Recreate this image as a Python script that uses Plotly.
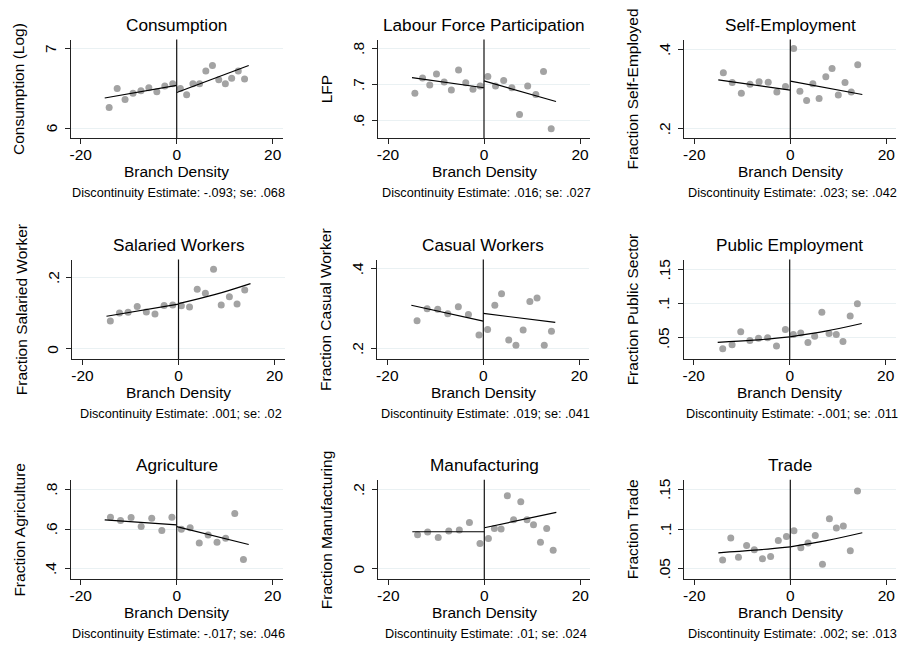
import plotly.graph_objects as go

# ---------------- text ----------------
titles = ["Consumption", "Labour Force Participation", "Self-Employment",
          "Salaried Workers", "Casual Workers", "Public Employment",
          "Agriculture", "Manufacturing", "Trade"]
ytitles = ["Consumption (Log)", "LFP", "Fraction Self-Employed",
           "Fraction Salaried Worker", "Fraction Casual Worker", "Fraction Public Sector",
           "Fraction Agriculture", "Fraction Manufacturing", "Fraction Trade"]
notes = ["Discontinuity Estimate: -.093; se: .068",
         "Discontinuity Estimate: .016; se: .027",
         "Discontinuity Estimate: .023; se: .042",
         "Discontinuity Estimate: .001; se: .02",
         "Discontinuity Estimate: .019; se: .041",
         "Discontinuity Estimate: -.001; se: .011",
         "Discontinuity Estimate: -.017; se: .046",
         "Discontinuity Estimate: .01; se: .024",
         "Discontinuity Estimate: .002; se: .013"]
xtitle = "Branch Density"
x_tickvals = [-20, 0, 20]
x_ticktext = ["-20", "0", "20"]

# ---------------- data ----------------
consumption_x = [-14.07, -12.4, -10.76, -9.1, -7.45, -5.8, -4.14, -2.48, -0.83,
                 0.76, 2.07, 3.38, 4.76, 6.07, 7.45, 8.76, 10.14, 11.45, 12.83, 14.14]
consumption_y = [6.26, 6.50, 6.36, 6.44, 6.47, 6.51, 6.46, 6.53, 6.56,
                 6.50, 6.42, 6.56, 6.56, 6.72, 6.79, 6.61, 6.56, 6.63, 6.72, 6.62]
consumption_fit_left = ([-15, 0], [6.38, 6.54])
consumption_fit_right = ([0, 15], [6.45, 6.79])
consumption_ticks = ([6, 7], ["6", "7"])
consumption_range = [5.874, 7.117]

lfp_x = [-14.4, -12.8, -11.3, -9.9, -8.3, -6.8, -5.3, -3.8, -2.3, -0.8,
         0.8, 2.4, 4.1, 5.8, 7.4, 9.1, 10.8, 12.4, 14.0]
lfp_y = [0.676, 0.718, 0.699, 0.729, 0.707, 0.685, 0.740, 0.705, 0.687, 0.696,
         0.722, 0.696, 0.711, 0.691, 0.617, 0.696, 0.672, 0.736, 0.577]
lfp_fit_left = ([-15, 0], [0.719, 0.691])
lfp_fit_right = ([0, 15], [0.710, 0.653])
lfp_ticks = ([0.6, 0.7, 0.8], [".6", ".7", ".8"])
lfp_range = [0.551, 0.825]

selfemp_x = [-13.95, -12.1, -10.2, -8.4, -6.5, -4.6, -2.8, -1.0,
             0.7, 2.0, 3.4, 4.7, 6.0, 7.4, 8.7, 10.0, 11.4, 12.7, 14.05]
selfemp_y = [0.341, 0.316, 0.289, 0.312, 0.318, 0.317, 0.292, 0.306,
             0.402, 0.294, 0.271, 0.313, 0.276, 0.331, 0.352, 0.285, 0.316, 0.292, 0.361]
selfemp_fit_left = ([-15, 0], [0.323, 0.297])
selfemp_fit_right = ([0, 15], [0.320, 0.286])
selfemp_ticks = ([0.2, 0.4], [".2", ".4"])
selfemp_range = [0.1755, 0.425]

salaried_x = [-14.2, -12.3, -10.5, -8.6, -6.7, -4.9, -3.0, -1.2,
              0.6, 2.3, 3.9, 5.6, 7.3, 8.9, 10.6, 12.2, 13.8]
salaried_y = [0.078, 0.100, 0.102, 0.118, 0.103, 0.097, 0.121, 0.122,
              0.120, 0.117, 0.166, 0.155, 0.222, 0.122, 0.145, 0.125, 0.164]
salaried_fit_left = ([-15, 0], [0.091, 0.125])
salaried_fit_right = ([0, 7.5, 15], [0.126, 0.151, 0.182])
salaried_ticks = ([0, 0.2], ["0", ".2"])
salaried_range = [-0.028, 0.249]

casual_x = [-13.8, -11.7, -9.5, -7.4, -5.2, -3.1, -0.9,
            0.9, 2.4, 3.8, 5.3, 6.8, 8.3, 9.7, 11.2, 12.7, 14.2]
casual_y = [0.269, 0.299, 0.298, 0.287, 0.304, 0.285, 0.233,
            0.247, 0.308, 0.337, 0.221, 0.2075, 0.246, 0.3175, 0.326, 0.2075, 0.2425]
casual_fit_left = ([-15, 0], [0.308, 0.268])
casual_fit_right = ([0, 15], [0.2875, 0.265])
casual_ticks = ([0.2, 0.4], [".2", ".4"])
casual_range = [0.173, 0.423]

public_x = [-13.95, -12.0, -10.2, -8.3, -6.5, -4.6, -2.75, -0.9,
            0.76, 2.3, 3.8, 5.2, 6.7, 8.2, 9.7, 11.1, 12.6, 14.1]
public_y = [0.034, 0.040, 0.0587, 0.046, 0.0495, 0.050, 0.038, 0.062,
            0.055, 0.057, 0.043, 0.0524, 0.0874, 0.0563, 0.0549, 0.0447, 0.082, 0.100]
public_fit_left = ([-15, -7.5, 0], [0.0432, 0.0465, 0.0515])
public_fit_right = ([0, 7.5, 15], [0.0515, 0.0597, 0.0709])
public_ticks = ([0.05, 0.1, 0.15], [".05", ".1", ".15"])
public_range = [0.019, 0.1646]

agri_x = [-13.8, -11.7, -9.5, -7.4, -5.2, -3.1, -1.0,
          0.97, 2.8, 4.7, 6.55, 8.4, 10.2, 12.1, 13.9]
agri_y = [0.6605, 0.644, 0.659, 0.613, 0.655, 0.593, 0.660,
          0.600, 0.607, 0.531, 0.571, 0.534, 0.555, 0.679, 0.447]
agri_fit_left = ([-15, 0], [0.647, 0.622])
agri_fit_right = ([0, 15], [0.613, 0.523])
agri_ticks = ([0.4, 0.6, 0.8], [".4", ".6", ".8"])
agri_range = [0.348, 0.849]

manuf_x = [-13.9, -11.8, -9.6, -7.4, -5.2, -3.1, -0.9,
           0.85, 2.1, 3.5, 4.8, 6.1, 7.6, 8.9, 10.25, 11.7, 13.0, 14.35]
manuf_y = [0.0857, 0.0924, 0.079, 0.095, 0.0975, 0.1168, 0.064,
           0.0765, 0.1017, 0.100, 0.184, 0.1235, 0.169, 0.1235, 0.111, 0.0672, 0.1017, 0.047]
manuf_fit_left = ([-15, 0], [0.0933, 0.0933])
manuf_fit_right = ([0, 15], [0.1034, 0.142])
manuf_ticks = ([0, 0.2], ["0", ".2"])
manuf_range = [-0.026, 0.224]

trade_x = [-14.1, -12.4, -10.8, -9.1, -7.5, -5.8, -4.1, -2.5, -0.8,
           0.76, 2.2, 3.7, 5.2, 6.7, 8.15, 9.6, 11.05, 12.5, 14.0]
trade_y = [0.0613, 0.0887, 0.0647, 0.0794, 0.074, 0.0626, 0.0655, 0.0857, 0.0908,
           0.0979, 0.0765, 0.0824, 0.092, 0.0559, 0.113, 0.1013, 0.104, 0.0727, 0.148]
trade_fit_left = ([-15, -7.5, 0], [0.0702, 0.0735, 0.0777])
trade_fit_right = ([0, 7.5, 15], [0.0777, 0.0855, 0.0954])
trade_ticks = ([0.05, 0.1, 0.15], [".05", ".1", ".15"])
trade_range = [0.037, 0.162]

panels = [
    (consumption_x, consumption_y, consumption_fit_left, consumption_fit_right, consumption_ticks, consumption_range),
    (lfp_x, lfp_y, lfp_fit_left, lfp_fit_right, lfp_ticks, lfp_range),
    (selfemp_x, selfemp_y, selfemp_fit_left, selfemp_fit_right, selfemp_ticks, selfemp_range),
    (salaried_x, salaried_y, salaried_fit_left, salaried_fit_right, salaried_ticks, salaried_range),
    (casual_x, casual_y, casual_fit_left, casual_fit_right, casual_ticks, casual_range),
    (public_x, public_y, public_fit_left, public_fit_right, public_ticks, public_range),
    (agri_x, agri_y, agri_fit_left, agri_fit_right, agri_ticks, agri_range),
    (manuf_x, manuf_y, manuf_fit_left, manuf_fit_right, manuf_ticks, manuf_range),
    (trade_x, trade_y, trade_fit_left, trade_fit_right, trade_ticks, trade_range),
]

# ---------------- layout geometry (pixels) ----------------
W, H = 900, 645
zero_px = [176.7, 484.0, 790.3, 178.5, 483.3, 789.7, 176.7, 484.3, 790.3]
row_top = [39.5, 259.5, 479.8]
row_bot = [138.2, 359.0, 579.2]
x_range = [-22.1, 22.1]
px_per_unit = 4.8

FONT = "Liberation Sans, Arial, Helvetica, sans-serif"
AXIS_COLOR = "#222222"
GRID_COLOR = "#EAF1F3"
MARKER_COLOR = "#A3A3A3"

fig = go.Figure()
layout_axes = {}
shapes = []
annotations = []

for i, (px, py, fl, fr, ticks, yr) in enumerate(panels):
    k = i + 1
    xa = "x" if k == 1 else f"x{k}"
    ya = "y" if k == 1 else f"y{k}"
    xname = "xaxis" if k == 1 else f"xaxis{k}"
    yname = "yaxis" if k == 1 else f"yaxis{k}"
    r = i // 3
    x0 = zero_px[i]
    half = (x_range[1]) * px_per_unit
    xdom = [(x0 - half) / W, min(1.0, (x0 + half) / W)]
    ydom = [1 - row_bot[r] / H, 1 - row_top[r] / H]

    fig.add_trace(go.Scatter(x=px, y=py, mode="markers",
                             marker=dict(color=MARKER_COLOR, size=7, line=dict(width=0)),
                             xaxis=xa, yaxis=ya, hoverinfo="skip"))
    for fx, fy in (fl, fr):
        fig.add_trace(go.Scatter(x=fx, y=fy, mode="lines",
                                 line=dict(color="black", width=1.2,
                                           shape="spline" if len(fx) > 2 else "linear"),
                                 xaxis=xa, yaxis=ya, hoverinfo="skip"))

    layout_axes[xname] = dict(domain=xdom, anchor=ya, range=x_range,
                              tickvals=x_tickvals, ticktext=x_ticktext,
                              ticklabelstandoff=-3,
                              showgrid=False, zeroline=False, showline=True,
                              linecolor=AXIS_COLOR, linewidth=1,
                              ticks="outside", ticklen=5, tickcolor=AXIS_COLOR,
                              tickfont=dict(family=FONT, size=15.5, color="black"),
                              fixedrange=True)
    layout_axes[yname] = dict(domain=ydom, anchor=xa, range=yr,
                              tickvals=ticks[0], showticklabels=False,
                              showgrid=True, gridcolor=GRID_COLOR, gridwidth=1,
                              zeroline=False, showline=True,
                              linecolor=AXIS_COLOR, linewidth=1,
                              ticks="outside", ticklen=5, tickcolor=AXIS_COLOR,
                              fixedrange=True)

    # rotated y tick labels, placed at the tick values on the y scale
    for tv, tt in zip(ticks[0], ticks[1]):
        annotations.append(dict(text=tt, xref=f"{xa} domain", yref=ya,
                                x=0, y=tv, xshift=-19.5, xanchor="center", yanchor="middle",
                                textangle=-90, showarrow=False,
                                font=dict(family=FONT, size=15.5, color="black")))

    shapes.append(dict(type="line", xref=xa, yref=f"{ya} domain",
                       x0=0, x1=0, y0=0, y1=1,
                       line=dict(color="#111111", width=1.2), layer="above"))

    annotations.append(dict(text=titles[i], xref=f"{xa} domain", yref=f"{ya} domain",
                            x=0.5, y=1, yshift=14.5, xanchor="center", yanchor="middle",
                            showarrow=False, font=dict(family=FONT, size=17.2, color="black")))
    annotations.append(dict(text=xtitle, xref=f"{xa} domain", yref=f"{ya} domain",
                            x=0.5, y=0, yshift=-33.5, xanchor="center", yanchor="middle",
                            showarrow=False, font=dict(family=FONT, size=15.5, color="black")))
    annotations.append(dict(text=notes[i], xref=f"{xa} domain", yref=f"{ya} domain",
                            x=0.5, y=0, xshift=2, yshift=-55, xanchor="center", yanchor="middle",
                            showarrow=False, font=dict(family=FONT, size=12.7, color="black")))
    annotations.append(dict(text=ytitles[i], xref=f"{xa} domain", yref=f"{ya} domain",
                            x=0, y=0.5, xshift=-51.5, xanchor="center", yanchor="middle",
                            textangle=-90, showarrow=False,
                            font=dict(family=FONT, size=15.5, color="black")))

fig.update_layout(width=W, height=H, margin=dict(l=0, r=0, t=0, b=0),
                  paper_bgcolor="white", plot_bgcolor="white",
                  showlegend=False, shapes=shapes, annotations=annotations,
                  **layout_axes)

fig.write_html("out.html", config={"displayModeBar": False},
               post_script="document.body.style.margin='0';document.body.style.padding='0';")
